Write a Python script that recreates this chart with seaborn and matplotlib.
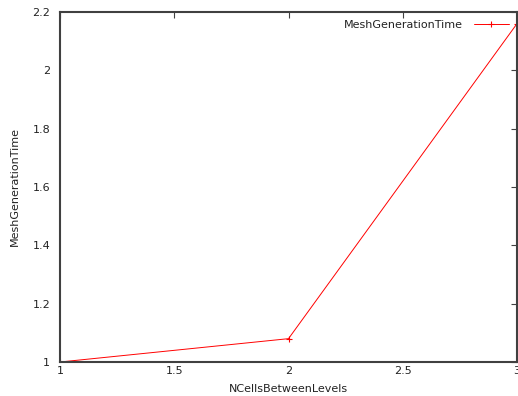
import matplotlib
matplotlib.use("Agg")
import matplotlib.pyplot as plt
import seaborn as sns
import pandas as pd

# Mesh generation timing vs. cells between refinement levels
n_cells = [1, 2, 3]
gen_time = [1.0, 1.08, 2.16]
x_ticks = [1, 1.5, 2, 2.5, 3]
y_ticks = [1, 1.2, 1.4, 1.6, 1.8, 2, 2.2]

sns.set_style("white")
plt.rcParams["font.family"] = ["DejaVu Sans"]

df = pd.DataFrame({"NCellsBetweenLevels": n_cells, "MeshGenerationTime": gen_time})

fig = plt.figure(figsize=(5.18, 3.96), dpi=100)
ax = fig.add_axes([60 / 518, 34 / 396, 457 / 518, 350 / 396])

sns.lineplot(data=df, x="NCellsBetweenLevels", y="MeshGenerationTime", ax=ax,
             color="red", linewidth=0.7, marker="+", markersize=5,
             markeredgewidth=0.8, markeredgecolor="red",
             label="MeshGenerationTime")

ax.set_xlim(1, 3)
ax.set_ylim(1, 2.2)
ax.set_xticks(x_ticks)
ax.set_xticklabels(["1", "1.5", "2", "2.5", "3"])
ax.set_yticks(y_ticks)
ax.set_yticklabels(["1", "1.2", "1.4", "1.6", "1.8", "2", "2.2"])

for s in ax.spines.values():
    s.set_color("#404040")
    s.set_linewidth(1.5)
    s.set_visible(True)

ax.tick_params(axis="both", direction="in", length=4, width=0.8, color="#404040",
               labelsize=8, labelcolor="#222222", top=True, right=True)
ax.tick_params(axis="x", pad=3)
ax.tick_params(axis="y", pad=7)

ax.set_xlabel("NCellsBetweenLevels", fontsize=8, color="#222222", labelpad=6)
ax.set_ylabel("MeshGenerationTime", fontsize=8, color="#222222", labelpad=9)

ax.legend(loc="upper right", frameon=False, markerfirst=False, fontsize=8,
          handlelength=3.2, borderaxespad=0.3, handletextpad=1.0,
          labelcolor="#222222")

fig.savefig("out.png", dpi=100)
